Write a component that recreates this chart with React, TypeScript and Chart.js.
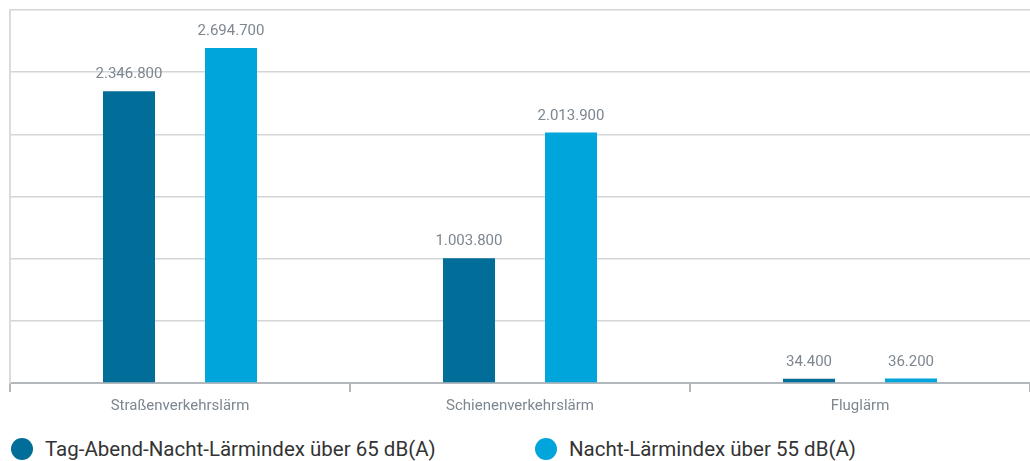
import React, { useEffect, useRef } from "react";
import { Chart, registerables } from "chart.js";

Chart.register(...registerables);

const categories = ["Straßenverkehrslärm", "Schienenverkehrslärm", "Fluglärm"];
const seriesNames = ["Tag-Abend-Nacht-Lärmindex über 65 dB(A)", "Nacht-Lärmindex über 55 dB(A)"];
const lden65 = [2346800, 1003800, 34400];
const lnight55 = [2694700, 2013900, 36200];
const colors = ["#006e99", "#00a5dc"];

const fmt = (v: number) => v.toLocaleString("de-DE");

const valueLabels = {
  id: "valueLabels",
  afterDatasetsDraw(chart: any) {
    const ctx = chart.ctx;
    ctx.save();
    ctx.font = "15px Roboto";
    ctx.fillStyle = "#7d8790";
    ctx.textAlign = "center";
    ctx.textBaseline = "bottom";
    chart.data.datasets.forEach((ds: any, i: number) => {
      const meta = chart.getDatasetMeta(i);
      meta.data.forEach((bar: any, j: number) => {
        ctx.fillText(fmt(ds.data[j]), bar.x, bar.y - 9);
      });
    });
    ctx.restore();
  },
};

export default function App() {
  const ref = useRef<HTMLCanvasElement>(null);
  useEffect(() => {
    const chart = new Chart(ref.current!, {
      type: "bar",
      data: {
        labels: categories,
        datasets: [
          { label: seriesNames[0], data: lden65, backgroundColor: colors[0] },
          { label: seriesNames[1], data: lnight55, backgroundColor: colors[1] },
        ],
      },
      options: {
        animation: false,
        responsive: false,
        maintainAspectRatio: false,
        datasets: { bar: { categoryPercentage: 0.6, barPercentage: 0.51 } },
        layout: { padding: { left: 10, top: 10, right: 0, bottom: 8 } },
        plugins: { legend: { display: false }, tooltip: { enabled: false } },
        scales: {
          x: {
            grid: { offset: true, drawOnChartArea: false, tickLength: 9, color: "#b3b8bd", lineWidth: 2 },
            border: { color: "#b3b8bd", width: 2 },
            ticks: { color: "#7d8790", font: { family: "Roboto", size: 15 }, padding: 5 },
          },
          y: {
            min: 0,
            max: 3000000,
            ticks: { stepSize: 500000, display: false },
            grid: { color: "#d3d6d9", lineWidth: 1.5, drawTicks: false },
            border: { color: "#d9dcdf", width: 2 },
          },
        },
      },
      plugins: [valueLabels],
    });
    return () => chart.destroy();
  }, []);

  const legendItem = (i: number, left: number) => (
    <div style={{ position: "absolute", left, top: 438, display: "flex", alignItems: "center", height: 22 }}>
      <span style={{ width: 22, height: 22, borderRadius: "50%", background: colors[i], display: "inline-block" }} />
      <span style={{ marginLeft: 12, fontFamily: "Roboto", fontSize: 20.5, color: "#333", whiteSpace: "nowrap" }}>
        {seriesNames[i]}
      </span>
    </div>
  );

  return (
    <div style={{ position: "absolute", left: 0, top: 0, width: 1030, height: 461, background: "#fff" }}>
      <canvas ref={ref} width={1030} height={428} style={{ position: "absolute", left: 0, top: 0 }} />
      {legendItem(0, 11)}
      {legendItem(1, 535)}
    </div>
  );
}
